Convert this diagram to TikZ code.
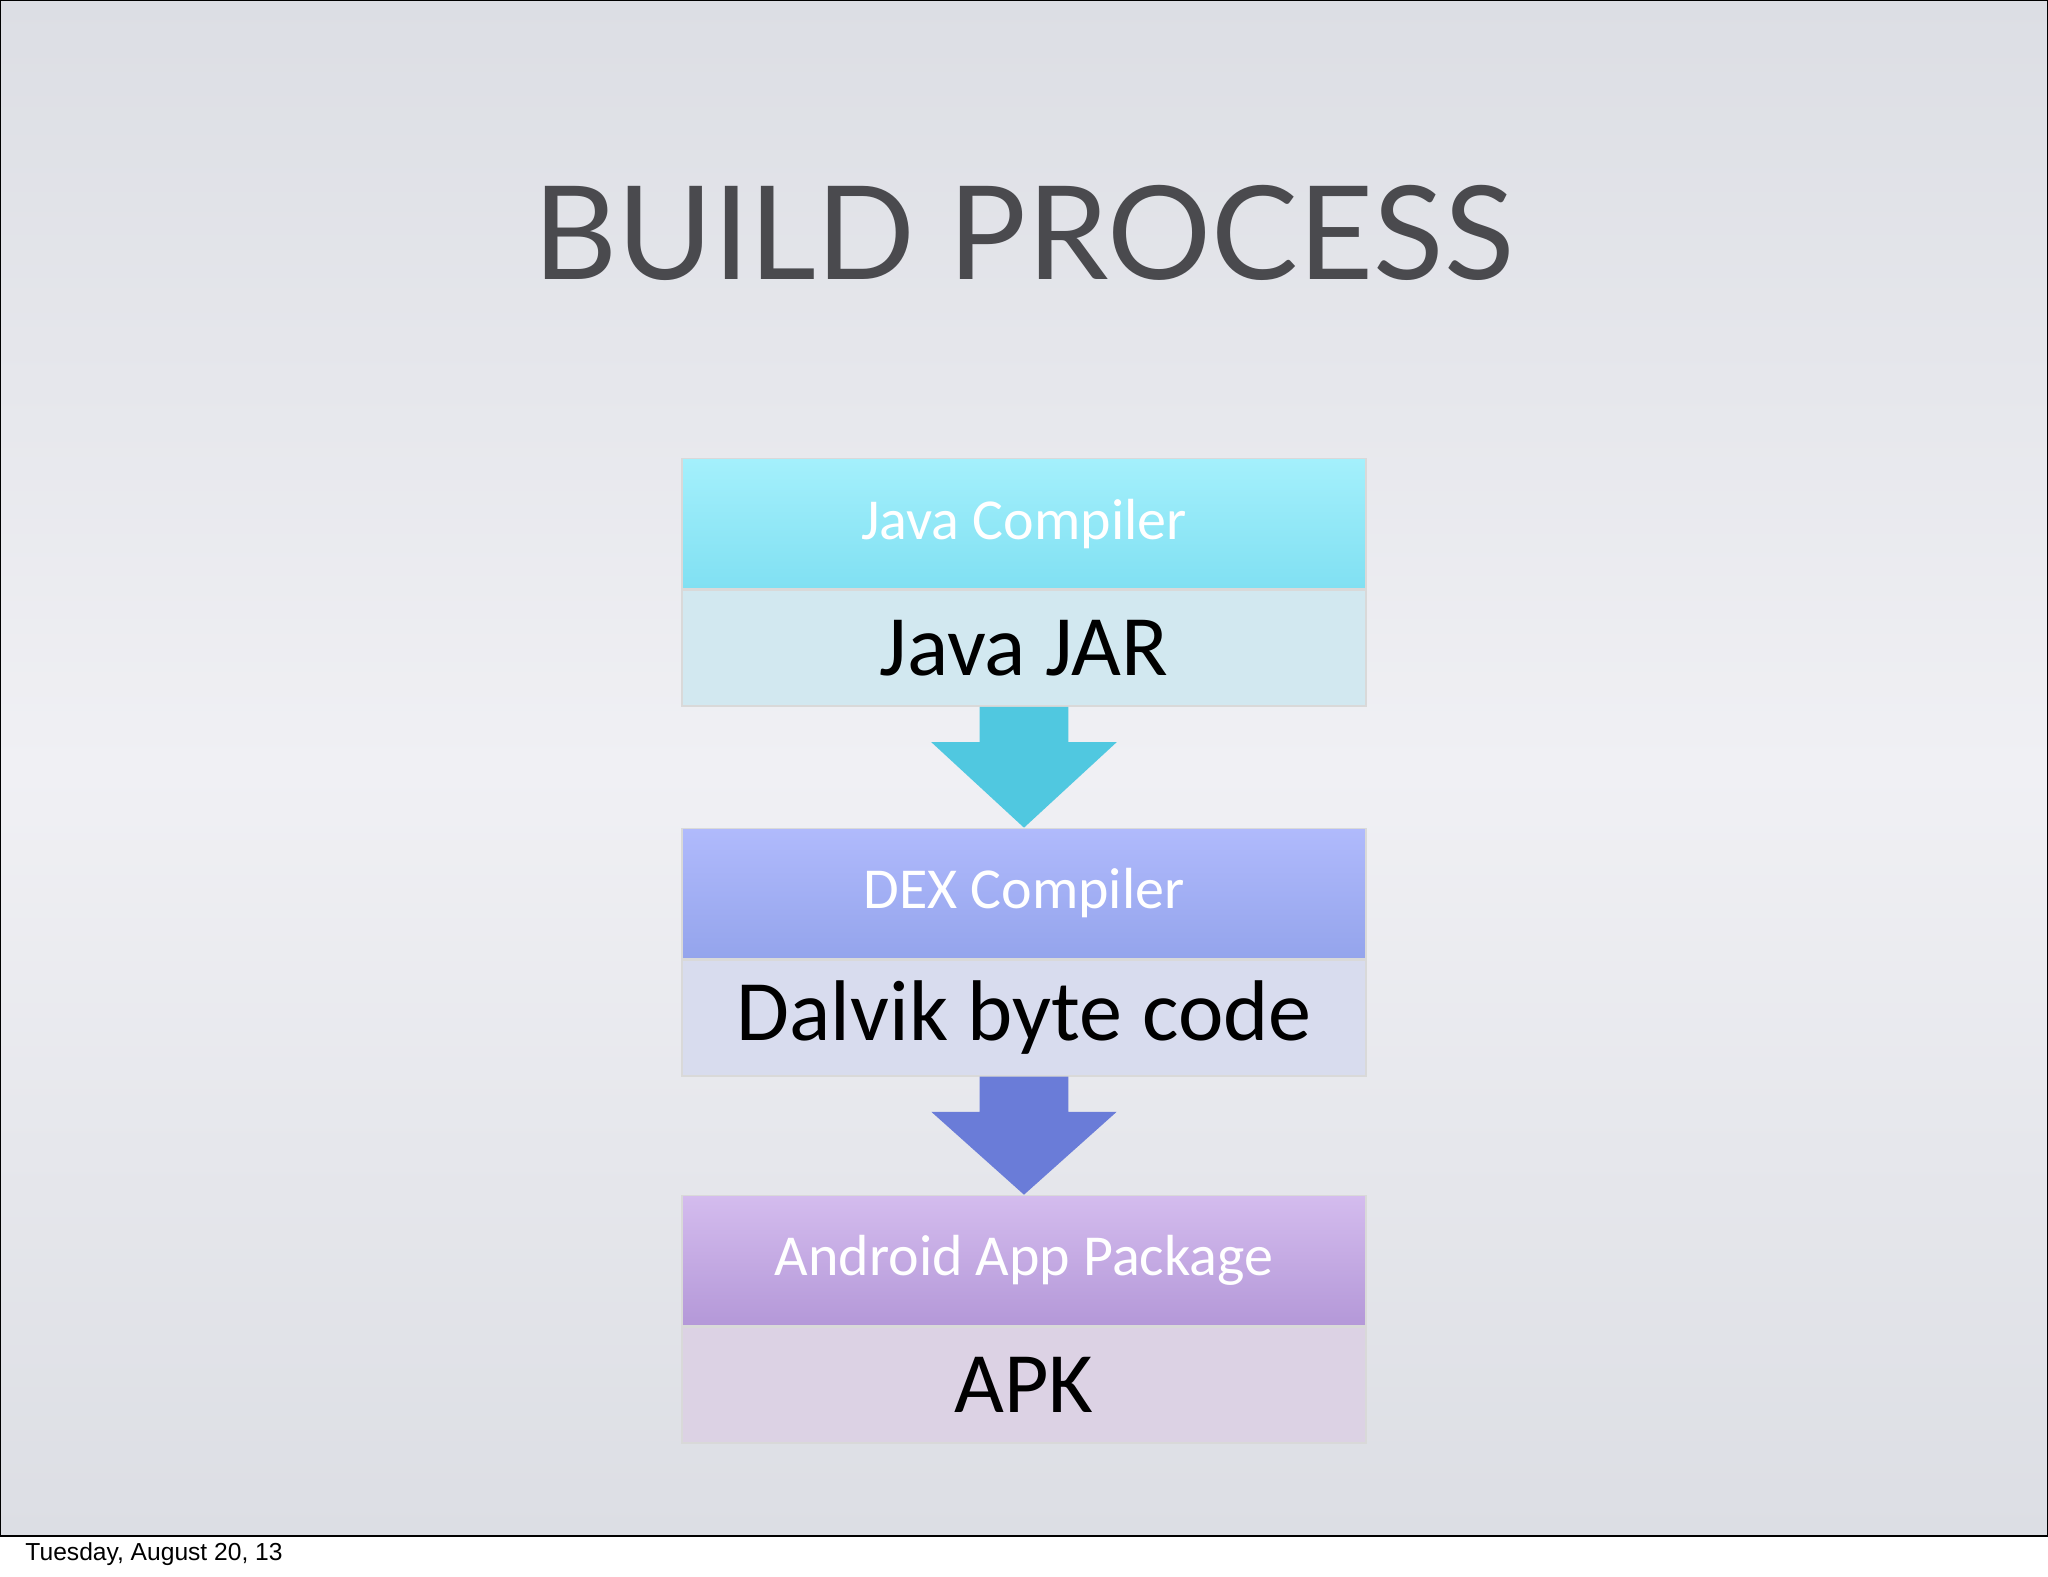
\documentclass[tikz,border=0pt]{standalone}
\usepackage{fontspec}
\setmainfont{Carlito}
\newfontfamily\titlefont{Lato}
\newfontfamily\footfont{Liberation Sans}
\usetikzlibrary{positioning,calc}
\definecolor{slidetop}{HTML}{DCDEE4}
\definecolor{slidemid}{HTML}{F0F0F4}
\definecolor{titlegray}{HTML}{4A4A4E}
\definecolor{cyanhi}{HTML}{A4F0FC}
\definecolor{cyanlo}{HTML}{80E0F2}
\definecolor{cyanbody}{HTML}{D2E8F0}
\definecolor{cyanarrow}{HTML}{50C8E0}
\definecolor{bluehi}{HTML}{B0BAFC}
\definecolor{bluelo}{HTML}{94A4EC}
\definecolor{bluebody}{HTML}{D8DCEE}
\definecolor{bluearrow}{HTML}{6A7CD8}
\definecolor{purphi}{HTML}{D4BCEE}
\definecolor{purplo}{HTML}{B498D8}
\definecolor{purpbody}{HTML}{DCD2E4}
\begin{document}
\begin{tikzpicture}[x=0.01306cm,y=-0.01306cm,
    header/.style={minimum width=6.84cm,minimum height=1.30cm,inner sep=0pt,
      draw=white!70!gray,text=white,font=\fontsize{16.5}{20}\selectfont},
    body/.style={minimum width=6.84cm,minimum height=1.16cm,inner sep=0pt,
      draw=white!70!gray,text=black,font=\fontsize{24.5}{28}\selectfont}]
  \useasboundingbox (0,0) rectangle (1568,1207);
  % slide background
  \shade[top color=slidetop,bottom color=slidetop,middle color=slidemid] (0,0) rectangle (1568,1176);
  \draw[black,line width=0.6pt] (0,0) rectangle (1568,1176);
  \node[anchor=west,font=\footfont\fontsize{7}{8}\selectfont] (date) at (10,1190) {Tuesday, August 20, 13};
  \node[font=\titlefont\fontsize{37}{40}\selectfont,text=titlegray] (title) at (784,178) {BUILD PROCESS};
  % stages
  \node[header,top color=cyanhi,bottom color=cyanlo] (javac) at (784,401) {Java Compiler};
  \node[body,fill=cyanbody,below=0pt of javac] (jar) {Java JAR};
  \node[header,top color=bluehi,bottom color=bluelo] (dexc) at (784,684) {DEX Compiler};
  \node[body,fill=bluebody,below=0pt of dexc] (dalvik) {Dalvik byte code};
  \node[header,top color=purphi,bottom color=purplo] (apkc) at (784,965) {Android App Package};
  \node[body,fill=purpbody,below=0pt of apkc] (apk) {APK};
  % arrows
  \fill[cyanarrow] ($(jar.south)+(-34,0)$) -- ++(0,27) -- ++(-37,0) -- (dexc.north)
    -- ($(jar.south)+(71,27)$) -- ++(-37,0) -- ++(0,-27) -- cycle;
  \fill[bluearrow] ($(dalvik.south)+(-34,0)$) -- ++(0,27) -- ++(-37,0) -- (apkc.north)
    -- ($(dalvik.south)+(71,27)$) -- ++(-37,0) -- ++(0,-27) -- cycle;
\end{tikzpicture}
\end{document}
